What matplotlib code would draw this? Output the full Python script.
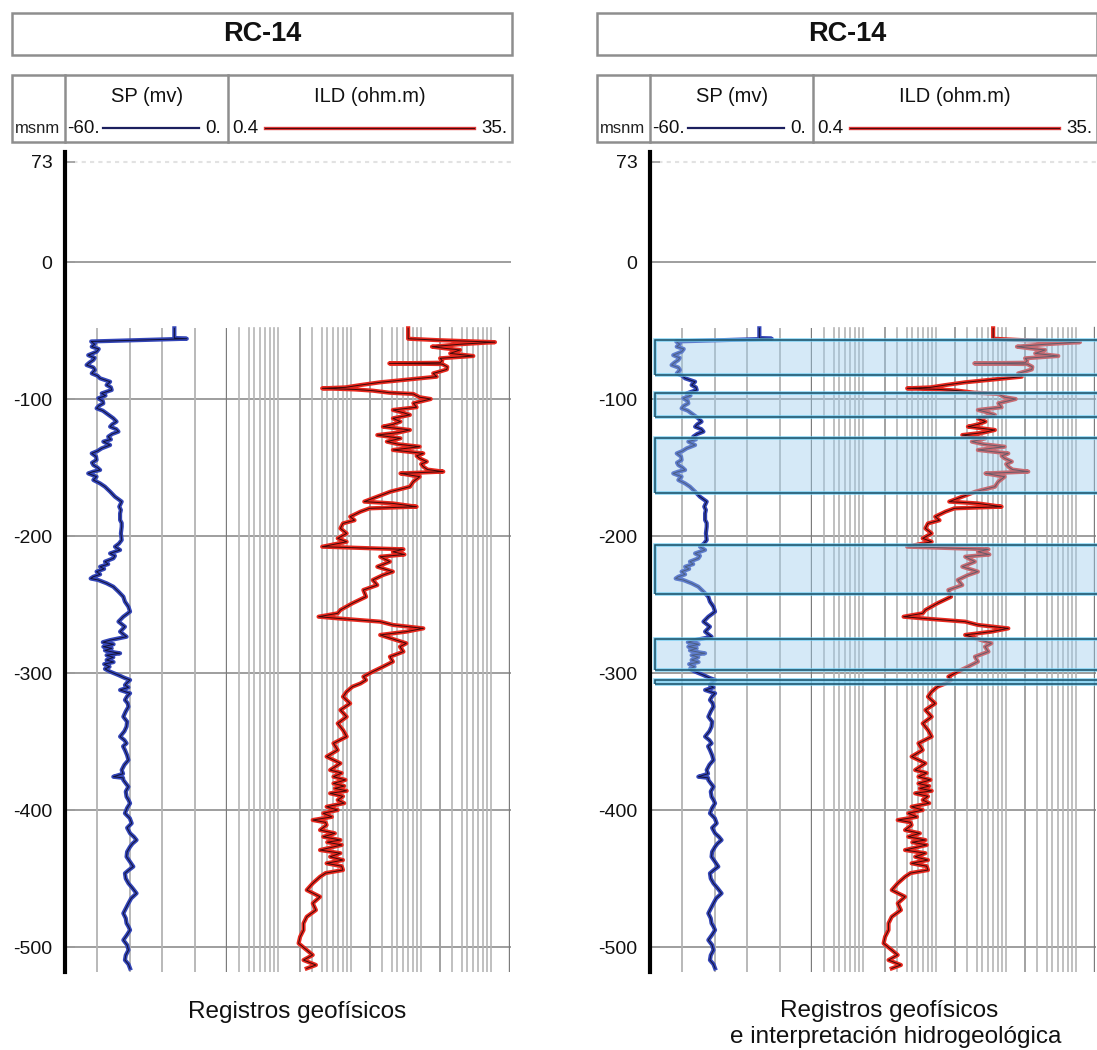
import numpy as np
import matplotlib
matplotlib.use("Agg")
import matplotlib.pyplot as plt
from matplotlib.patches import Rectangle
from matplotlib.lines import Line2D
from matplotlib.transforms import blended_transform_factory

plt.rcParams['font.family'] = ['Liberation Sans', 'DejaVu Sans']

# ---------------- data ----------------
well_name = "RC-14"
depth_unit = "msnm"
depth_ticks = [73, 0, -100, -200, -300, -400, -500]
sp_title = "SP (mv)"
sp_range = (-60.0, 0.0)
sp_scale_labels = ["-60.", "0."]
ild_title = "ILD (ohm.m)"
ild_range = (0.4, 35.0)
ild_scale_labels = ["0.4", "35."]
captions_left = ["Registros geofísicos"]
captions_right = ["Registros geofísicos", "e interpretación hidrogeológica"]

sp_depth = [-48.4, -55.5, -56.0, -58.0, -60.0, -61.8, -63.5, -65.5, -68.0, -70.0,
            -71.5, -73.5, -75.2, -77.0, -78.8, -81.3, -83.0, -84.9, -87.4, -89.8,
            -91.5, -93.4, -95.9, -97.5, -99.5, -101.5, -103.2, -105.0, -106.8, -108.5,
            -110.5, -114.1, -116.5, -118.5, -120.2, -122.0, -123.8, -125.5, -127.5, -129.5,
            -131.1, -133.6, -136.0, -138.0, -139.7, -142.0, -144.5, -146.5, -148.2, -150.0,
            -151.8, -153.0, -154.3, -156.7, -159.1, -161.6, -164.0, -167.6, -171.3, -174.9,
            -178.6, -181.0, -183.5, -188.3, -190.5, -193.2, -198.1, -202.9, -205.5, -207.8,
            -210.2, -212.7, -214.5, -216.3, -218.7, -220.5, -222.4, -224.0, -226.0, -228.0,
            -229.7, -231.0, -232.1, -234.5, -237.0, -240.6, -244.3, -247.9, -251.6, -255.2,
            -258.9, -262.5, -266.2, -269.8, -273.5, -276.0, -277.5, -279.0, -280.8, -282.0,
            -283.5, -285.0, -285.6, -287.0, -288.5, -290.5, -292.0, -293.5, -295.4, -297.0,
            -299.0, -301.5, -303.5, -305.1, -307.0, -308.8, -310.5, -312.4, -314.8, -317.0,
            -319.7, -322.0, -324.6, -328.0, -331.9, -335.5, -339.1, -342.5, -346.4, -349.0,
            -351.3, -353.5, -356.2, -360.0, -363.5, -367.0, -370.8, -373.5, -375.7, -376.5,
            -378.1, -380.5, -383.0, -386.5, -390.3, -392.5, -395.1, -398.5, -402.4, -406.0,
            -409.7, -413.0, -417.0, -419.5, -421.9, -424.5, -426.8, -430.5, -434.1, -437.5,
            -441.3, -444.0, -446.2, -450.0, -453.5, -457.0, -460.8, -464.5, -468.1, -472.0,
            -475.4, -479.0, -482.7, -485.0, -487.6, -491.0, -494.9, -498.5, -502.2, -506.0,
            -509.5, -512.5, -515.6]
sp_mv = [-19.5, -19.5, -14.9, -50.3, -49.0, -50.1, -47.5, -48.3, -51.4, -49.0,
         -49.5, -51.0, -52.0, -49.5, -48.9, -50.1, -48.0, -47.0, -43.3, -44.6,
         -43.0, -42.7, -46.4, -45.0, -47.7, -46.0, -45.8, -47.5, -48.3, -46.0,
         -44.6, -42.1, -40.9, -42.5, -43.3, -41.0, -40.2, -42.5, -44.0, -43.0,
         -45.8, -43.3, -46.4, -48.0, -50.1, -48.5, -48.3, -50.0, -49.5, -48.0,
         -47.0, -49.5, -51.4, -48.3, -49.5, -47.0, -45.2, -43.3, -41.5, -39.0,
         -39.9, -39.3, -39.6, -39.6, -39.0, -39.0, -39.3, -39.0, -40.0, -41.5,
         -39.6, -43.3, -41.5, -42.1, -45.2, -44.0, -47.0, -45.5, -48.3, -47.0,
         -49.5, -50.5, -47.7, -44.6, -42.1, -40.2, -38.4, -37.8, -36.5, -35.9,
         -38.4, -40.2, -37.8, -39.6, -37.2, -43.3, -46.0, -42.0, -45.8, -42.7,
         -45.2, -41.5, -39.6, -44.6, -42.1, -44.6, -42.0, -45.5, -43.5, -45.2,
         -43.3, -40.2, -38.0, -35.9, -37.0, -37.8, -36.5, -39.6, -35.9, -37.0,
         -37.8, -36.8, -36.5, -37.5, -38.4, -37.0, -37.2, -38.0, -39.6, -38.0,
         -37.2, -38.5, -37.8, -37.0, -36.5, -38.0, -39.0, -38.5, -42.1, -38.5,
         -38.4, -37.5, -36.5, -37.5, -37.2, -36.5, -35.9, -37.0, -37.8, -36.0,
         -35.3, -37.0, -35.9, -34.5, -33.5, -35.0, -35.9, -37.0, -37.2, -36.0,
         -34.7, -36.5, -37.8, -37.5, -36.5, -35.0, -33.5, -35.5, -36.5, -37.5,
         -38.4, -37.5, -37.2, -36.5, -35.9, -37.0, -38.4, -37.0, -36.5, -37.5,
         -37.8, -36.5, -35.9]

ild_depth = [-48.4, -56.0, -57.0, -58.5, -60.0, -61.8, -63.0, -64.2, -66.7, -68.6,
             -70.3, -72.0, -73.5, -74.0, -74.5, -76.5, -78.4, -80.0, -81.3, -83.7,
             -86.1, -87.8, -89.8, -91.5, -92.2, -93.0, -93.9, -95.4, -96.3, -98.7,
             -100.0, -100.7, -103.1, -106.0, -108.0, -110.0, -111.6, -114.1, -116.5, -118.5,
             -120.2, -122.6, -124.5, -126.3, -128.7, -131.1, -133.0, -134.8, -137.2, -139.7,
             -141.5, -143.3, -145.7, -147.5, -149.4, -151.5, -153.0, -154.3, -156.7, -160.3,
             -164.0, -167.6, -171.3, -174.9, -176.2, -178.6, -179.8, -182.2, -185.9, -188.5,
             -190.8, -194.4, -198.1, -201.7, -204.2, -207.8, -209.7, -211.5, -213.5, -215.1,
             -218.7, -222.4, -226.0, -228.5, -232.1, -235.8, -239.4, -244.3, -249.1, -254.0,
             -256.4, -258.9, -260.1, -262.5, -264.9, -267.4, -269.8, -272.2, -275.9, -278.3,
             -280.8, -284.4, -288.1, -291.7, -295.4, -299.0, -302.7, -305.1, -307.6, -310.0,
             -313.6, -317.3, -322.2, -327.0, -331.9, -336.8, -341.6, -346.4, -351.3, -356.2,
             -361.0, -365.9, -370.8, -373.0, -375.7, -378.0, -380.6, -382.5, -384.2, -386.0,
             -387.8, -390.0, -392.7, -395.0, -397.6, -400.0, -402.4, -405.0, -407.3, -409.0,
             -411.0, -414.6, -417.0, -419.5, -421.9, -423.5, -425.5, -429.2, -431.5, -434.1,
             -436.5, -438.9, -441.0, -443.8, -446.0, -448.7, -453.5, -458.4, -463.3, -468.1,
             -473.0, -477.9, -482.7, -487.6, -492.5, -497.3, -502.2, -505.8, -509.5, -513.1,
             -515.6]
ild_ohmm = [7.0, 7.0, 11.0, 27.6, 16.0, 10.2, 12.5, 15.9, 13.6, 19.6,
            11.6, 12.0, 11.6, 5.2, 12.0, 13.0, 12.9, 11.5, 10.4, 11.0,
            6.5, 4.5, 3.3, 2.6, 1.8, 3.0, 4.0, 5.2, 7.6, 8.4,
            10.0, 9.4, 7.6, 8.0, 5.5, 6.5, 7.2, 5.5, 6.2, 5.5,
            4.7, 7.2, 6.0, 4.3, 6.2, 5.0, 6.0, 8.4, 5.5, 8.9,
            8.0, 8.4, 9.4, 8.6, 8.9, 9.5, 12.2, 6.2, 8.4, 7.6,
            7.2, 5.3, 4.3, 3.5, 5.5, 8.0, 3.8, 3.3, 2.8, 3.0,
            2.5, 2.4, 2.65, 2.3, 2.65, 1.8, 6.5, 5.5, 6.6, 4.5,
            5.25, 4.3, 5.5, 4.7, 4.0, 4.3, 3.45, 3.6, 2.9, 2.4,
            2.3, 1.7, 2.3, 4.5, 5.5, 8.9, 6.8, 4.5, 5.8, 6.8,
            6.15, 6.5, 5.25, 5.5, 4.7, 4.0, 3.45, 3.6, 3.3, 2.9,
            2.65, 2.5, 2.8, 2.4, 2.65, 2.3, 2.5, 2.65, 2.15, 2.3,
            1.93, 2.4, 2.04, 2.45, 2.15, 2.6, 2.15, 2.55, 2.2, 2.65,
            2.04, 2.5, 2.3, 2.55, 1.93, 2.3, 1.83, 2.1, 1.55, 1.9,
            1.93, 1.74, 2.2, 1.83, 2.4, 1.95, 2.45, 1.74, 2.4, 2.04,
            2.5, 1.93, 2.45, 2.5, 1.9, 1.74, 1.55, 1.41, 1.74, 1.55,
            1.63, 1.41, 1.34, 1.34, 1.27, 1.24, 1.41, 1.55, 1.34, 1.63,
            1.41]

# interpreted aquifer intervals (top, base), msnm
aquifer_top = [-57.0, -95.5, -128.5, -206.5, -275.0, -305.0]
aquifer_base = [-82.5, -113.0, -168.5, -242.0, -298.0, -308.0]

# ---------------- layout ----------------
W, H, DPI = 1097, 1050, 100
fig = plt.figure(figsize=(W / DPI, H / DPI), dpi=DPI)

Y_TOP, Y_BOT = 80.0, -518.0
PX_TOP, PX_BOT = 152.4, 971.7
GRID_TOP = -48.0
BORDER = '#8e8e8e'


def rect(x0, y0, x1, y1):
    return [x0 / W, 1 - y1 / H, (x1 - x0) / W, (y1 - y0) / H]


def fx(x):
    return x / W


def fy(y):
    return 1 - y / H


def header(dx):
    fig.add_artist(Rectangle((fx(12 + dx), fy(55)), 500 / W, 42 / H, transform=fig.transFigure,
                             fill=False, ec=BORDER, lw=1.8))
    fig.text(fx(262 + dx), fy(34), well_name, ha='center', va='center', fontsize=19.5,
             fontweight='bold', color='#111111')
    fig.add_artist(Rectangle((fx(12 + dx), fy(142)), 500 / W, 67 / H, transform=fig.transFigure,
                             fill=False, ec=BORDER, lw=1.8))
    for xv in (65, 228):
        fig.add_artist(Line2D([fx(xv + dx)] * 2, [fy(75), fy(142)], transform=fig.transFigure,
                              color=BORDER, lw=1.8))
    fig.text(fx(38 + dx), fy(128), depth_unit, ha='center', va='center', fontsize=12, color='#222222')
    fig.text(fx(147 + dx), fy(97), sp_title, ha='center', va='center', fontsize=14.5, color='#111111')
    fig.text(fx(67 + dx), fy(128), sp_scale_labels[0], ha='left', va='center', fontsize=13.5, color='#111111')
    fig.text(fx(221 + dx), fy(128), sp_scale_labels[1], ha='right', va='center', fontsize=13.5, color='#111111')
    fig.add_artist(Line2D([fx(103 + dx), fx(199 + dx)], [fy(128), fy(128)], transform=fig.transFigure,
                          color='#1c1f5e', lw=1.6))
    fig.text(fx(370 + dx), fy(97), ild_title, ha='center', va='center', fontsize=14.5, color='#111111')
    fig.text(fx(232 + dx), fy(128), ild_scale_labels[0], ha='left', va='center', fontsize=13.5, color='#111111')
    fig.text(fx(507 + dx), fy(128), ild_scale_labels[1], ha='right', va='center', fontsize=13.5, color='#111111')
    fig.add_artist(Line2D([fx(265 + dx), fx(474 + dx)], [fy(128), fy(128)], transform=fig.transFigure,
                          color='#e03a3a', lw=2.4))
    fig.add_artist(Line2D([fx(265 + dx), fx(474 + dx)], [fy(128), fy(128)], transform=fig.transFigure,
                          color='#4a0c0c', lw=0.8))


def tracks(dx):
    ax = fig.add_axes(rect(65 + dx, PX_TOP, 511 + dx, PX_BOT))
    ax.set_facecolor('none')
    ax.set_xlim(0, 1)
    ax.set_ylim(Y_BOT, Y_TOP)
    for s in ('top', 'right', 'bottom'):
        ax.spines[s].set_visible(False)
    ax.spines['left'].set_linewidth(3.0)
    ax.spines['left'].set_color('black')
    ax.set_xticks([])
    ax.set_yticks(depth_ticks)
    ax.set_yticklabels([str(t) for t in depth_ticks], fontsize=14, color='#111111')
    ax.tick_params(axis='y', direction='in', length=7, width=1.2, color='#9a9a9a', pad=9)
    ax.axhline(depth_ticks[0], color='#e2e2e2', lw=1.5, ls=(0, (2, 2)), zorder=0)
    for d in depth_ticks[1:]:
        ax.axhline(d, color='#9e9e9e', lw=1.4, zorder=1)

    # SP track
    ax_sp = fig.add_axes(rect(65 + dx, PX_TOP, 227 + dx, PX_BOT))
    ax_sp.set_facecolor('none')
    ax_sp.set_xlim(*sp_range)
    ax_sp.set_ylim(Y_BOT, Y_TOP)
    ax_sp.axis('off')
    sp_div = np.linspace(sp_range[0], sp_range[1], 6)
    ax_sp.vlines(sp_div[1:-1], Y_BOT, GRID_TOP, color='#b3b3b3', lw=1.3, zorder=1)
    ax_sp.vlines([sp_range[1]], Y_BOT, GRID_TOP, color='#7c7c7c', lw=1.7, zorder=1)
    ax_sp.plot(sp_mv, sp_depth, color='#3446b8', lw=3.0, solid_joinstyle='round', zorder=3)
    ax_sp.plot(sp_mv, sp_depth, color='#121238', lw=0.7, solid_joinstyle='round', zorder=4)

    # ILD track (logarithmic)
    ax_ild = fig.add_axes(rect(227 + dx, PX_TOP, 510 + dx, PX_BOT))
    ax_ild.set_facecolor('none')
    ax_ild.set_xscale('log')
    ax_ild.set_xlim(*ild_range)
    ax_ild.set_ylim(Y_BOT, Y_TOP)
    ax_ild.axis('off')
    tr = blended_transform_factory(ax_ild.transAxes, ax_ild.transData)
    cycle_starts = [0, 73, 143, 213]
    offsets = [11.7, 21.7, 27.3, 33.3, 38.3, 42.7, 46.7, 50.7]
    for c in cycle_starts:
        if c > 0:
            ax_ild.plot([c / 283] * 2, [Y_BOT, GRID_TOP], transform=tr, color='#a2a2a2', lw=1.4, zorder=1)
        for o in offsets:
            ax_ild.plot([(c + o) / 283] * 2, [Y_BOT, GRID_TOP], transform=tr, color='#b5b5b5',
                        lw=1.2, zorder=1)
    ax_ild.plot([1, 1], [Y_BOT, GRID_TOP], transform=tr, color='#7c7c7c', lw=1.7, zorder=1)
    ax_ild.plot(ild_ohmm, ild_depth, color='#e8281e', lw=3.0, solid_joinstyle='round', zorder=3)
    ax_ild.plot(ild_ohmm, ild_depth, color='#3e0a0a', lw=0.7, solid_joinstyle='round', zorder=4)
    return ax


# left panel
header(0)
tracks(0)
fig.text(fx(297), fy(1018), captions_left[0], ha='center', va='baseline', fontsize=17.5, color='#111111')

# right panel
DX = 585
header(DX)
tracks(DX)
ax_box = fig.add_axes(rect(655, PX_TOP, 1097, PX_BOT))
ax_box.set_facecolor('none')
ax_box.set_xlim(0, 1)
ax_box.set_ylim(Y_BOT, Y_TOP)
ax_box.axis('off')
for t, b in zip(aquifer_top, aquifer_base):
    ax_box.add_patch(Rectangle((0, b), 1.05, t - b, fc='#9ccbec', alpha=0.42, ec='none',
                               clip_on=False, zorder=2))
    ax_box.add_patch(Rectangle((0, b), 1.05, t - b, fill=False, ec='#6fcdf2', lw=2.6, alpha=0.8,
                               clip_on=False, zorder=3))
    ax_box.add_patch(Rectangle((0, b), 1.05, t - b, fill=False, ec='#1b4f66', lw=1.1,
                               clip_on=False, zorder=4))

fig.text(fx(889), fy(1017), captions_right[0], ha='center', va='baseline', fontsize=17.5, color='#111111')
fig.text(fx(896), fy(1043), captions_right[1], ha='center', va='baseline', fontsize=17.5, color='#111111')

fig.savefig('out.png', dpi=DPI, facecolor='white')
